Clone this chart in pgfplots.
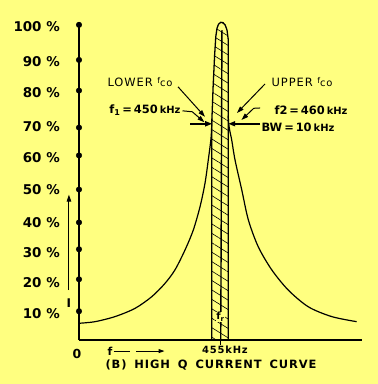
\documentclass[border=0pt]{standalone}
\usepackage{fontspec}
\setmainfont{DejaVu Sans}
\newfontfamily\lett[LetterSpace=8]{DejaVu Sans}
\usepackage{pgfplots}
\pgfplotsset{compat=1.18}
\usetikzlibrary{arrows.meta,patterns.meta}
\definecolor{bg}{RGB}{255,255,128}
\begin{document}
\begin{tikzpicture}
\fill[bg] (0,0) rectangle (378bp,384bp);
\begin{axis}[
  at={(79bp,44bp)}, anchor=south west,
  scale only axis, width=283.05bp, height=318bp,
  xmin=361, xmax=549.7, ymin=0, ymax=100.6,
  axis lines*=left, xtick=\empty, ytick=\empty,
  axis line style={line width=1.8pt},
  clip=false,
]
% hatched band (peak region between f1 and f2)
\addplot[draw=black, line width=1.3pt,
  pattern={Lines[angle=-32,distance=8bp,line width=0.6pt]}, pattern color=black]
  coordinates {(449.5,0) (449.5,68.4) (450.4,80) (451.4,90) (452.2,96) (453,98.6) (454,99.9)
   (455.5,100.5) (457,100.4) (458.5,99.6) (459.7,98) (460.5,95) (460.5,68.4) (460.5,0)} -- cycle;
% inner line at fr
\addplot[line width=1.4pt] coordinates {(455.5,0) (456.3,98)};
% left skirt
\addplot[smooth, line width=1.2pt] coordinates {
 (361.3,5.3) (371.7,5.8) (385,7.4) (398.3,10.0) (409.5,13.7) (418.3,17.9) (425,22.2)
 (431.7,28.5) (437.2,34.8) (441.7,42.2) (445,49.6) (447.2,57.0) (448.9,63.3) (449.4,67) (449.5,70)};
% right skirt
\addplot[smooth, line width=1.2pt] coordinates {
 (460.5,71) (460.8,68.5) (461.6,66) (462.8,63.3) (465,57.0) (469.5,47.5) (473.9,38.0) (480.5,29.5) (489.5,22.2)
 (500.5,15.8) (513.9,10.5) (529.5,7.4) (546.1,5.8)};
% dots on the I axis
\addplot[only marks, mark=*, mark size=2.8pt, black] coordinates {
 (361,99.7) (361,88.6) (361,78.9) (361,67.2) (361,58.4) (361,47.6)
 (361,37.2) (361,28.7) (361,19.2) (361,9.1)};
% percent labels
\begin{scope}[every node/.style={font=\bfseries\fontsize{13.5}{14}\selectfont, anchor=east, inner sep=0pt}]
\node at (axis cs:348.3,99.1) {100 \%};
\node at (axis cs:348.3,88.0) {90 \%};
\node at (axis cs:348.3,78.2) {80 \%};
\node at (axis cs:348.3,67.4) {70 \%};
\node at (axis cs:348.3,57.6) {60 \%};
\node at (axis cs:348.3,47.5) {50 \%};
\node at (axis cs:348.3,37.0) {40 \%};
\node at (axis cs:348.3,27.8) {30 \%};
\node at (axis cs:348.3,18.0) {20 \%};
\node at (axis cs:348.3,8.5) {10 \%};
\end{scope}
% I arrow
\draw[line width=1pt, -{Triangle[length=7pt,width=4.5pt]}] (axis cs:354.3,15.8) -- (axis cs:354.3,46);
\node[font=\bfseries\fontsize{12}{12}\selectfont, inner sep=0pt] at (axis cs:354.3,11.7) {I};
% x-axis texts
\node[font=\bfseries\fontsize{12.5}{12}\selectfont, inner sep=0pt] at (axis cs:359.7,-4.4) {0};
\node[font=\bfseries\fontsize{11}{11}\selectfont, inner sep=0pt] at (axis cs:381.7,-3.6) {f};
\draw[line width=1pt] (axis cs:384,-3.5) -- (axis cs:395,-3.5);
\draw[line width=1pt, -{Triangle[length=6pt,width=4pt]}] (axis cs:399,-3.5) -- (axis cs:418,-3.5);
\draw[line width=1pt] (axis cs:455.5,0) -- (axis cs:455.5,-1.6);
\node[font=\lett\bfseries\fontsize{10}{10}\selectfont, inner sep=0pt] at (axis cs:458.3,-3.2) {455kHz};
\node[font=\lett\bfseries\fontsize{11.5}{12}\selectfont, inner sep=0pt] at (axis cs:449,-8.0) {(B)\hspace{3pt} HIGH\hspace{3pt} Q\hspace{3pt} CURRENT\hspace{3pt} CURVE};
\node[font=\bfseries\fontsize{10}{10}\selectfont, inner sep=0.5pt, fill=bg] at (axis cs:455.3,7.3) {f\textsubscript{r}};
% annotations
\node[font=\lett\fontsize{11.5}{11.5}\selectfont, inner sep=0pt] at (axis cs:401.7,81.6) {LOWER {\fontsize{8}{8}\selectfont\raisebox{4pt}{f}}{\fontsize{10}{10}\selectfont co}};
\node[font=\lett\fontsize{11.5}{11.5}\selectfont, inner sep=0pt] at (axis cs:509.7,81.6) {UPPER {\fontsize{8}{8}\selectfont\raisebox{4pt}{f}}{\fontsize{10}{10}\selectfont co}};
\node[font=\bfseries\fontsize{11.5}{11}\selectfont, inner sep=0pt] at (axis cs:405,72.8) {f\textsubscript{1}\,=\,450\,{\fontsize{10}{10}\selectfont kHz}};
\node[font=\bfseries\fontsize{11.5}{11}\selectfont, inner sep=0pt] at (axis cs:515.7,72.8) {f2\,=\,460\,{\fontsize{10}{10}\selectfont kHz}};
\node[font=\bfseries\fontsize{11.5}{11}\selectfont, inner sep=0pt] at (axis cs:507,67.4) {BW\,=\,10\,{\fontsize{10}{10}\selectfont kHz}};
\draw[line width=1pt, -{Triangle[length=7pt,width=4.5pt]}] (axis cs:427,80.1) -- (axis cs:445,70.6);
\draw[line width=1pt, -{Triangle[length=7pt,width=4.5pt]}] (axis cs:430,72.5) -- (axis cs:436.5,72.2) -- (axis cs:444.6,68.9);
\draw[line width=1.6pt, -{Triangle[length=7pt,width=5pt]}] (axis cs:435,68.4) -- (axis cs:449.8,68.4);
\draw[line width=1pt, -{Triangle[length=7pt,width=4.5pt]}] (axis cs:485,81) -- (axis cs:466.3,71.8);
\draw[line width=1pt, -{Triangle[length=7pt,width=4.5pt]}] (axis cs:481.7,73.4) -- (axis cs:477.5,73.3) -- (axis cs:469.3,69.6);
\draw[line width=1.6pt, -{Triangle[length=7pt,width=5pt]}] (axis cs:481.7,68.4) -- (axis cs:460.5,68.4);
\end{axis}
\pgfresetboundingbox
\useasboundingbox (0,0) rectangle (378bp,384bp);
\end{tikzpicture}
\end{document}
